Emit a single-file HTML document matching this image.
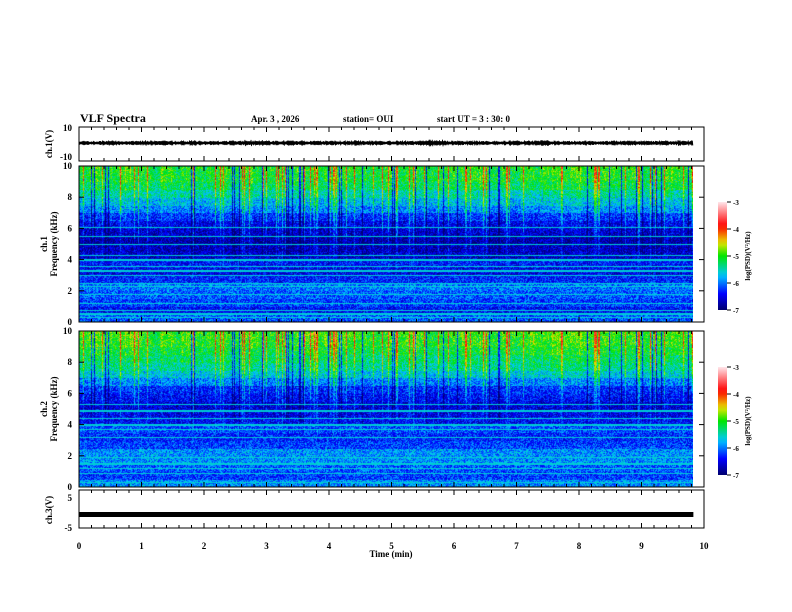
<!DOCTYPE html>
<html><head><meta charset="utf-8"><style>
body{margin:0;background:#fff;width:792px;height:612px;overflow:hidden;position:relative;font-family:"Liberation Serif",serif}
svg{position:absolute;left:0;top:0}
canvas{position:absolute}
</style></head><body>
<canvas id="c1" width="614" height="156" style="left:79px;top:166px"></canvas>
<canvas id="c2" width="614" height="156" style="left:79px;top:331px"></canvas>
<svg id="s" width="792" height="612"></svg>
<script>
// ---- data ----
const timeTicks=[0,1,2,3,4,5,6,7,8,9,10];
const freqTicks=[0,2,4,6,8,10];
const cbTicks=[-3,-4,-5,-6,-7];
// burst intensity (0..1) per time bin, 60 bins over 9.83 min
const burst1=[.6,.8,.5,.7,.9,.6,.7,.5,.8,.6,.7,.6,.5,.8,.7,.6,.9,.5,.6,.7,.6,.8,.7,.5,.6,.8,.7,.6,.5,.7,.9,.6,.8,.5,.6,.7,.8,.6,.7,.9,.6,.7,.5,.8,.6,.7,.8,.6,.9,.7,.6,.8,.7,.6,.8,.7,.6,.9,.7,.6];
const burst2=[.7,.8,.6,.7,.8,.9,.6,.5,.7,.6,.8,.6,.5,.7,.6,.6,.8,.6,.5,.6,.6,.7,.9,.6,.7,.8,.7,.6,.5,.6,.8,.7,.9,.6,.5,.6,.7,.7,.6,.8,.6,.7,.6,.7,.8,.6,.9,.7,.8,.8,.6,.7,.6,.6,.7,.8,.6,.7,.7,.6];
// background log PSD per 0.5 kHz bin, from 0 to 10 kHz (20 bins)
const prof1=[-6.1,-6.4,-6.2,-6.1,-6.0,-6.3,-6.5,-6.4,-6.7,-6.8,-6.9,-6.8,-6.7,-6.5,-6.2,-6.0,-5.8,-5.6,-5.5,-5.5];
const prof2=[-5.9,-6.2,-6.1,-5.9,-5.9,-6.2,-6.3,-6.2,-6.5,-6.6,-6.7,-6.6,-6.5,-6.2,-5.9,-5.7,-5.6,-5.5,-5.4,-5.4];
// narrowband lines (kHz)
const lines1=[0.3,0.55,0.75,1.2,1.8,2.3,2.5,3.0,3.3,3.6,4.0,4.3,5.0,5.5,6.1];
const lines2=[0.3,0.9,1.2,1.5,1.9,3.2,3.7,4.0,4.4,4.9,5.3];
const wave1=[1.5,1.8,1.6,2.0,1.7,1.9,1.6,1.8,2.2,1.7,1.9,1.6,1.8,2.0,1.7,1.8,1.9,2.4,1.7,1.8,1.6,1.9,2.0,1.7,1.8,1.6,1.9,1.7,1.8,2.0];
const ch3Level=[-0.5];
// ---- geometry ----
const X0=79,X1=704,T1=10;
const xs=t=>X0+(X1-X0)*t/T1;
const S=document.getElementById('s');const NS='http://www.w3.org/2000/svg';
function el(tag,a,txt){const e=document.createElementNS(NS,tag);for(const k in a)e.setAttribute(k,a[k]);if(txt!==undefined)e.textContent=txt;S.appendChild(e);return e;}
function cmap(v){let f=(v+7)/4;f=Math.max(0,Math.min(1,f));
 const st=[[0,0,0,110],[.15,0,0,255],[.32,0,200,255],[.5,0,230,0],[.62,230,230,0],[.78,255,0,0],[1,255,230,235]];
 for(let i=1;i<st.length;i++)if(f<=st[i][0]){const a=st[i-1],b=st[i],u=(f-a[0])/(b[0]-a[0]);return [0,1,2].map(j=>Math.round(a[j+1]+(b[j+1]-a[j+1])*u));}
 return [255,230,235];}
function hash(i,j){let h=(i*374761393+j*668265263)>>>0;h=((h^(h>>13))*1274126177)>>>0;return ((h^(h>>16))&1023)/1023;}
function spec(id,burst,prof,lines){
 const c=document.getElementById(id),g=c.getContext('2d'),W=c.width,H=c.height;
 const img=g.createImageData(W,H);
 for(let x=0;x<W;x++){const bi=Math.min(burst.length-1,Math.floor(x/W*burst.length));
  const col=hash(x,7);const spike=col>0.9?1:0;const dark=col<0.06?1:0;
  for(let y=0;y<H;y++){const f=10*(1-y/H);const pi=Math.min(prof.length-1,Math.floor(f/0.5));
   let v=prof[pi]+(hash(x,y)-0.5)*0.8;
   const hi=Math.max(0,(f-3.0)/7);
   v+=burst[bi]*hi*0.9*(0.5+col*0.6)+spike*hi*0.9-dark*hi*1.2;
   for(const L of lines){if(Math.abs(f-L)<0.04)v=Math.max(v,-5.6);}
   const [r,gg,b]=cmap(v);const k=(y*W+x)*4;img.data[k]=r;img.data[k+1]=gg;img.data[k+2]=b;img.data[k+3]=255;}}
 g.putImageData(img,0,0);}
spec('c1',burst1,prof1,lines1);spec('c2',burst2,prof2,lines2);
// panels
const panels=[{n:'ch1-waveform-panel',t:127,b:161},{n:'ch1-spectrogram-frame',t:166,b:322},{n:'ch2-spectrogram-frame',t:331,b:487},{n:'ch3-panel',t:490,b:528}];
for(const p of panels){const r=el('rect',{x:X0,y:p.t,width:X1-X0,height:p.b-p.t,fill:'none',stroke:'#000','stroke-width':1});
 for(let t=0;t<=10;t+=0.2){const x=xs(t),L=(Math.abs(t-Math.round(t))<1e-6)?5:3;el('line',{x1:x,x2:x,y1:p.t,y2:p.t+L,stroke:'#000'});el('line',{x1:x,x2:x,y1:p.b,y2:p.b-L,stroke:'#000'});}}
// waveform
let d='';const n=wave1.length*20;
for(let i=0;i<n;i++){const x=xs(9.83*i/n),x2=xs(9.83*(i+0.5)/n),a=wave1[Math.floor(i/20)]*(0.5+0.7*hash(i,3));const yc=143,k=1.2;d+=(i?'L':'M')+`${x},${yc-a*k}L${x2},${yc+a*k}`;}
const w=el('path',{d,stroke:'#000','stroke-width':0.8,fill:'none'});
// ch3 line
const ych=v=>513-v*3;
const l3=el('rect',{x:X0,y:ych(ch3Level[0])-2.5,width:xs(9.83)-X0,height:5,fill:'#000'});
// y labels
const F='font-family:"Liberation Serif",serif;font-weight:bold;';
function lbl(x,y,t,anchor,size){return el('text',{x,y,'text-anchor':anchor||'end',style:F+'font-size:'+(size||9)+'px'},t);}
lbl(72,131,'10');lbl(72,160,'-10');
for(const f of freqTicks){const y1=322-156*f/10,y2=487-156*f/10;lbl(72,y1+3,String(f));lbl(72,y2+3,String(f));
 for(const [t,b] of [[166,322],[331,487]]){const y=b-(b-t)*f/10;el('line',{x1:X0,x2:X0+5,y1:y,y2:y,stroke:'#000'});el('line',{x1:X1,x2:X1-5,y1:y,y2:y,stroke:'#000'});}}
lbl(72,501,'5');lbl(72,531,'-5');
for(const t of timeTicks){const tx=lbl(xs(t),549,String(t),'middle');}
const xt=lbl(391,557,'Time  (min)','middle');
function rot(x,y,t,name){const e=el('text',{x,y,'text-anchor':'middle',transform:`rotate(-90 ${x} ${y})`,style:F+'font-size:9px'},t);}
rot(52,144,'ch.1(V)','y-title-ch1');
rot(47,244,'ch.1','y-title-spec1');rot(57,244,'Frequency  (kHz)','y-title-spec1-freq');
rot(47,409,'ch.2','y-title-spec2');rot(57,409,'Frequency  (kHz)','y-title-spec2-freq');
rot(52,510,'ch.3(V)','y-title-ch3');
// header
const h=el('text',{x:80,y:122,style:'font-family:"Liberation Serif",serif;font-weight:bold;font-size:12px'},'VLF Spectra');
lbl(251,122,'Apr. 3  , 2026','start');lbl(343,122,'station= OUI','start');lbl(437,122,'start  UT  =   3  : 30: 0','start');
// colorbars
const defs=el('defs',{});
const lg=document.createElementNS(NS,'linearGradient');lg.setAttribute('id','cg');lg.setAttribute('x1','0');lg.setAttribute('y1','1');lg.setAttribute('x2','0');lg.setAttribute('y2','0');defs.appendChild(lg);
for(let i=0;i<=20;i++){const c=cmap(-7+4*i/20);const s=document.createElementNS(NS,'stop');s.setAttribute('offset',i/20);s.setAttribute('stop-color',`rgb(${c})`);lg.appendChild(s);}
for(const [top,nm] of [[202,'colorbar-ch1'],[367,'colorbar-ch2']]){
 const r=el('rect',{x:718,y:top,width:9,height:108,fill:'url(#cg)'});
 cbTicks.forEach(v=>{const yy=top+108*((-3-v)/4);el('line',{x1:727,x2:731,y1:yy,y2:yy,stroke:'#000'});lbl(733,yy+3,String(v),'start',7);});
 const e=el('text',{x:750,y:top+54,'text-anchor':'middle',transform:`rotate(-90 750 ${top+54})`,style:F+'font-size:7px'},'log(PSD)(V²/Hz)');}
</script>
</body></html>
